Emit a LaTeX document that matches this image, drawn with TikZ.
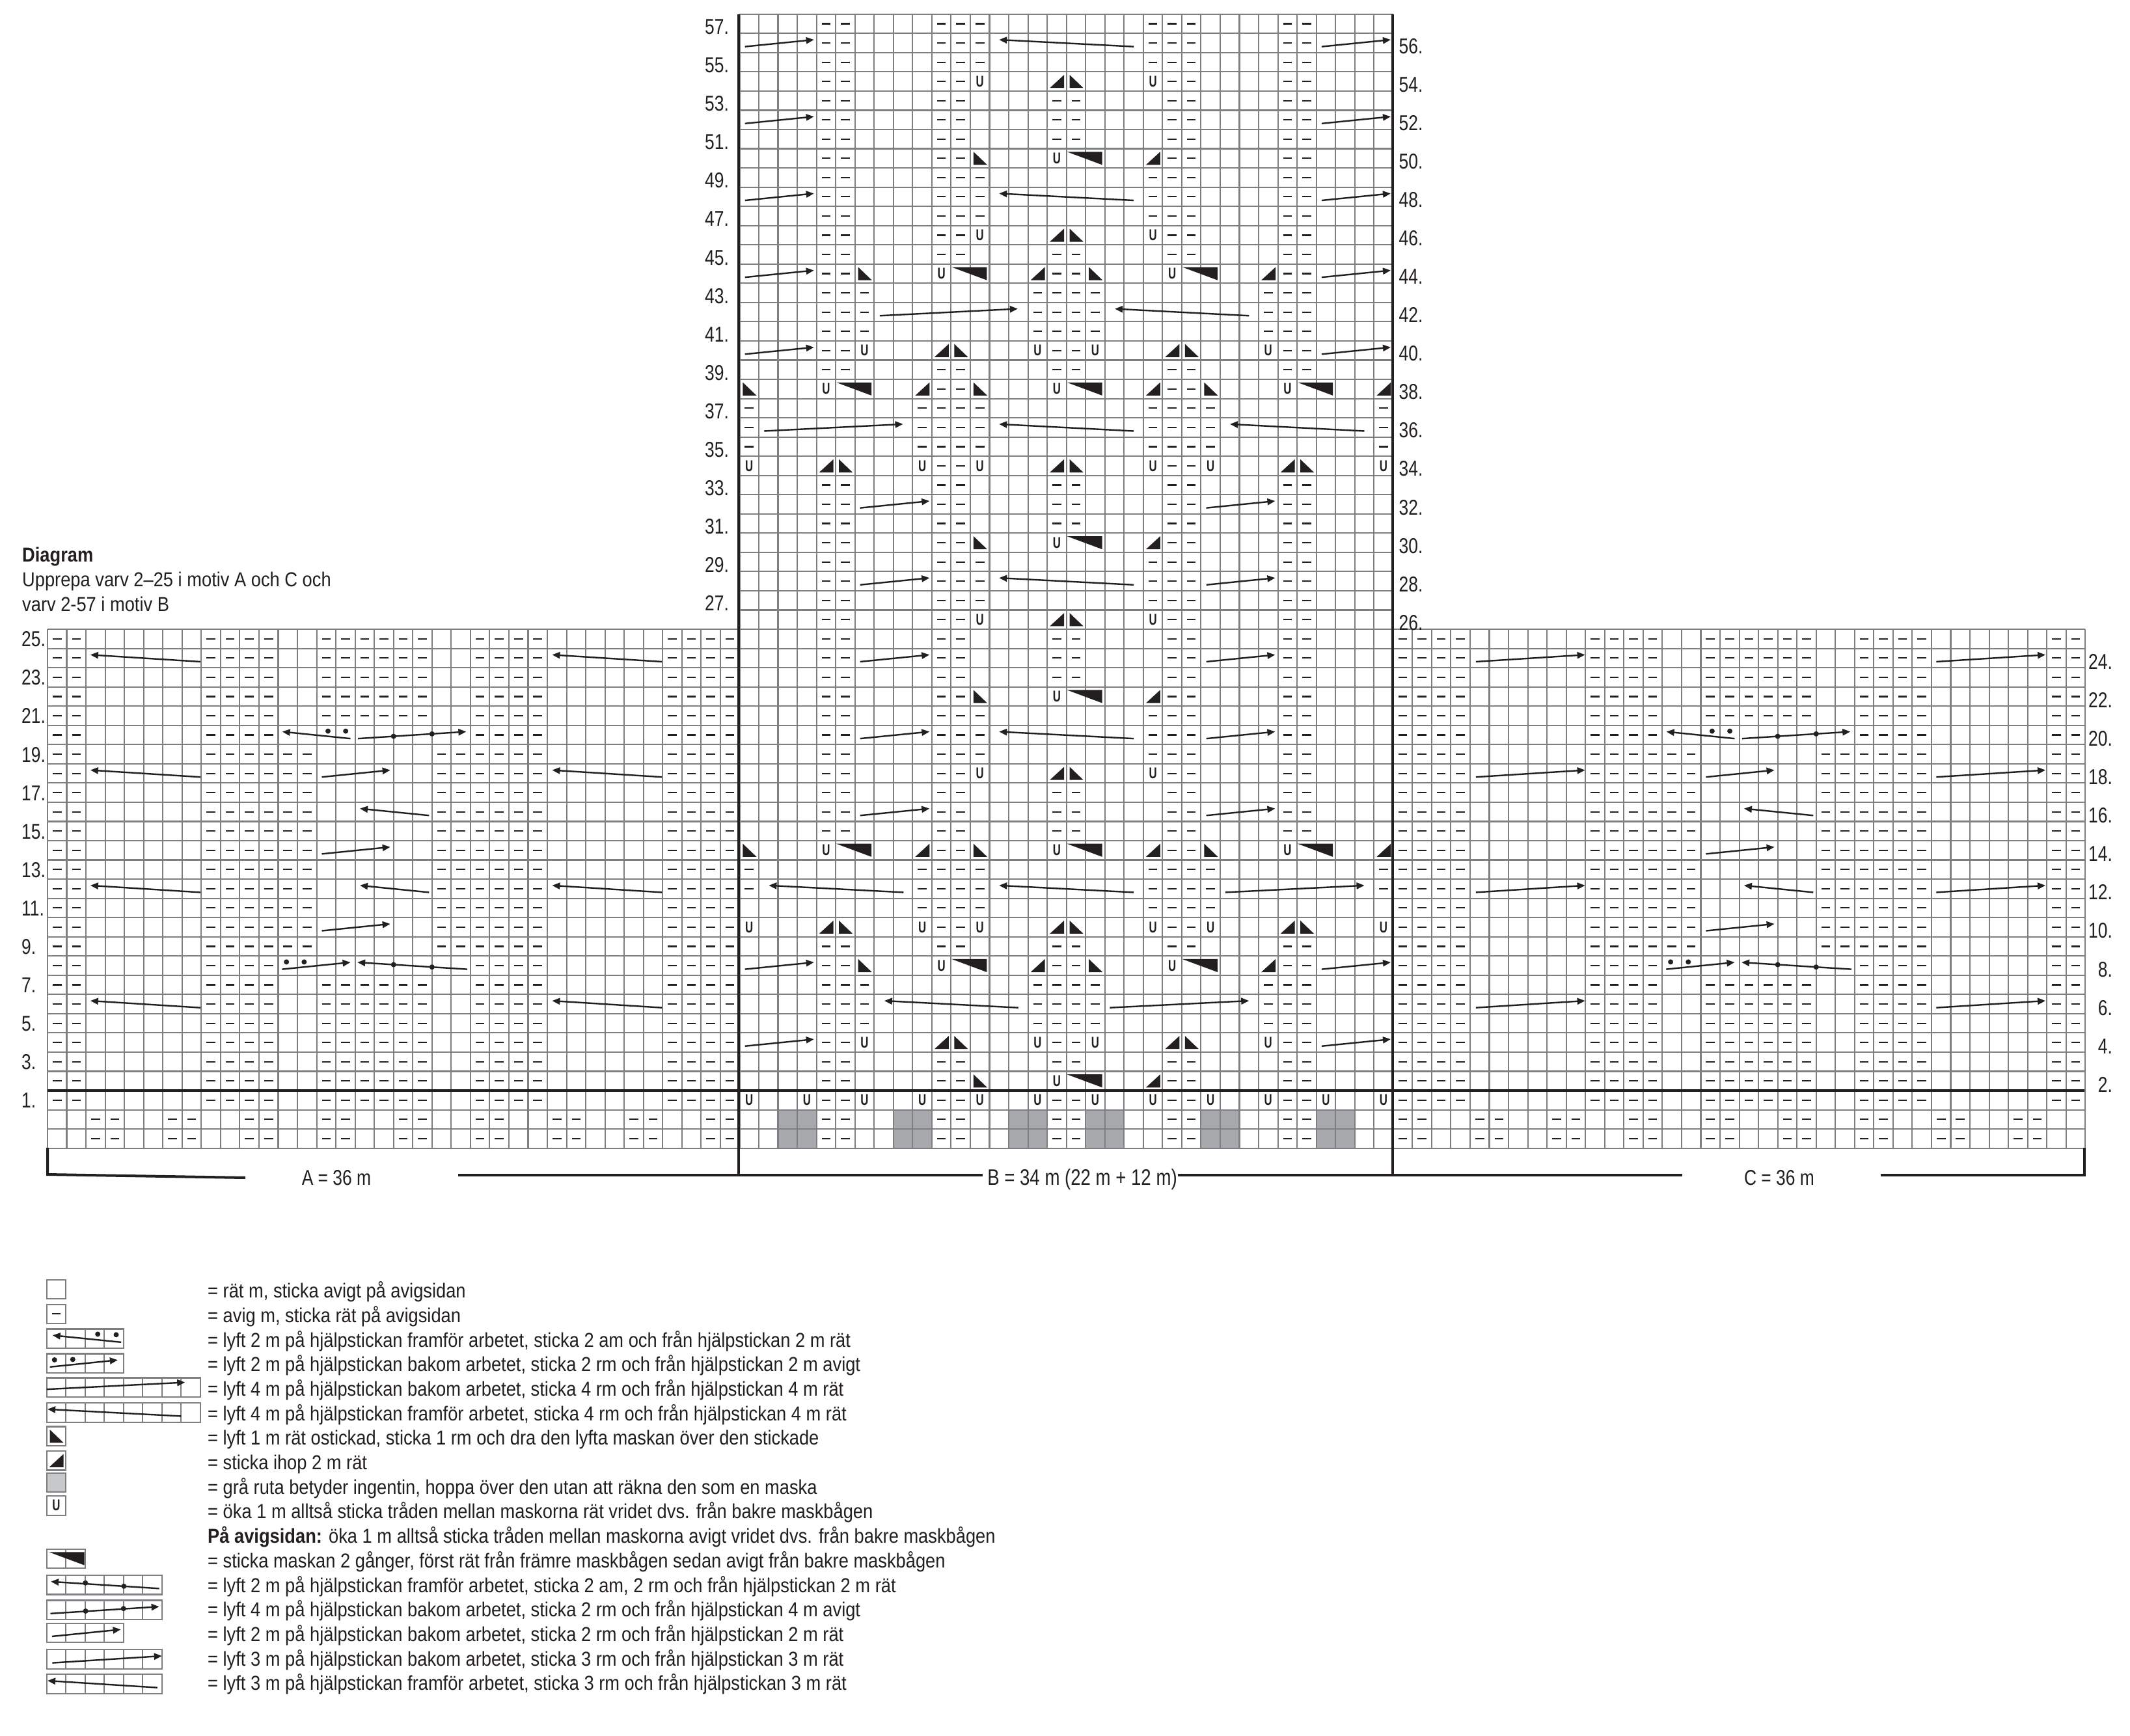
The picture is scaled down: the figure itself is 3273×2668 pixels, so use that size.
\documentclass[tikz,border=0pt]{standalone}
\usepackage{fontspec}
\setmainfont{Liberation Sans}[FakeStretch=0.8]
\newfontfamily\ufont{Liberation Sans}[FakeStretch=0.7]
\newfontfamily\legfont{Liberation Sans}[FakeStretch=0.88]
\usetikzlibrary{arrows.meta}
\definecolor{gridgray}{HTML}{7D7F82}
\definecolor{ink}{HTML}{231F20}
\definecolor{cellgray}{HTML}{A7A9AC}
\definecolor{legendgray}{HTML}{C7C8CA}
\tikzset{
  gridline/.style={draw=gridgray,line width=2.1pt},
  purl/.style={draw=ink,line width=2.2pt},
  cab/.style={draw=ink,line width=2.4pt,-{Stealth[length=12pt,width=10pt,inset=0pt]}},
  heavy/.style={draw=ink,line width=4pt},
  sym/.style={fill=ink,draw=none},
  ustitch/.style={inner sep=0pt,font=\ufont\bfseries\fontsize{24}{24}\selectfont,text=ink},
  rowlabel/.style={inner sep=0pt,font=\fontsize{33}{36}\selectfont,text=ink},
  legendtext/.style={inner sep=0pt,anchor=base west,font=\legfont\fontsize{31}{34}\selectfont,text=ink},
}
\newcommand\purlset[2]{\foreach \c in #2 {\draw[purl] (\c-.73,#1-1.5) -- (\c-.27,#1-1.5);}}
\newcommand\cable[3]{\draw[cab] (#1,#3-.19) -- (#2,#3+.17);}
\newcommand\kk[2]{\fill[sym] (#1-.86,#2-1.84) -- (#1-.12,#2-1.84) -- (#1-.12,#2-1.16) -- cycle;}
\newcommand\ssk[2]{\fill[sym] (#1-.83,#2-1.16) -- (#1-.83,#2-1.84) -- (#1-.12,#2-1.84) -- cycle;}
\newcommand\wdg[2]{\fill[sym] (#1-.97,#2-1.16) -- (#1+.86,#2-1.16) -- (#1+.86,#2-1.84) -- cycle;}
\newcommand\Uc[2]{\node[ustitch] (u#1r#2) at (#1-.5,#2-1.5) {U};}
\newcommand\dotc[2]{\fill[ink] (#1,#2) circle (4pt);}
\newcommand\legcell[3]{\begin{scope}[shift={(71.6,#1)},x=29.54pt,y=29.54pt]
  \draw[gridline] (0,-.5) rectangle (#2,.5);
  \foreach \q in {1,...,#2} {\draw[gridline] (\q,-.5) -- (\q,.5);}
  #3
\end{scope}}
\newcommand\legline[2]{\node[legendtext] (leg#1) at (319,{1994.6+37.7*(#1-1)}) {#2};}
% motif sets
\def\Aw{1,2,9,10,11,12,15,16,17,18,19,20,23,24,25,26,33,34,35,36}
\def\Ax{1,2,9,10,11,12,23,24,25,26,33,34,35,36}
\def\Ay{1,2,9,10,11,12,13,14,21,22,23,24,25,26,33,34,35,36}
\def\Az{3,4,7,8,11,12,15,16,19,20,23,24,27,28,31,32,35,36}
\def\Cw{1,2,3,4,11,12,13,14,17,18,19,20,21,22,25,26,27,28,35,36}
\def\Cx{1,2,3,4,11,12,13,14,25,26,27,28,35,36}
\def\Cy{1,2,3,4,11,12,13,14,15,16,23,24,25,26,27,28,35,36}
\def\Cz{1,2,5,6,9,10,13,14,17,18,21,22,25,26,29,30,33,34}
\def\Ba{5,6,11,12,13,22,23,24,29,30}
\def\Bb{5,6,11,12,17,18,23,24,29,30}
\def\Bc{5,6,11,12,23,24,29,30}
\def\Bd{5,6,17,18,29,30}
\def\Be{5,6,7,16,17,18,19,28,29,30}
\def\Bg{11,12,23,24}
\def\Bh{1,10,11,12,13,22,23,24,25,34}
\def\Bi{10,11,12,13,22,23,24,25}
% centre cables shared by motifs A and C
\newcommand\midcables{
  \cable{15.76}{12.21}{18.5}
  \dotc{14.59}{18.7}\dotc{15.51}{18.7}
  \cable{16.15}{21.78}{18.5}
  \dotc{18}{18.43}\dotc{20}{18.556}
  \foreach \r in {18,14,10} {\cable{14.27}{17.83}{\r-1.5}}
  \foreach \r in {16,12} {\cable{19.85}{16.25}{\r-1.5}}
  \cable{12.2}{15.76}{6.5}
  \dotc{12.43}{6.69}\dotc{13.35}{6.69}
  \cable{21.83}{16.12}{6.5}
  \dotc{18}{6.55}\dotc{20}{6.425}
}
\begin{document}
\begin{tikzpicture}[x=1pt,y=-1pt]
\useasboundingbox (0,0) rectangle (3273,2668);
\fill[white] (0,0) rectangle (3273,2668);

\begin{scope}[shift={(73,1676)},x=29.54pt,y=29.54pt]
  % grey cells of motif B
  \foreach \c in {2,8,14,18,24,30} {\fill[cellgray] (36+\c,-3) rectangle (36+\c+2,-1);}
  % grid
  \draw[gridline,step=1] (0,-3) grid (106,24);
  \draw[gridline,step=1] (36,24) grid (70,56);

  % motif A
  \foreach \r in {25,24,23,22,21,7,6,5,4,3,2,1} {\purlset{\r}{\Aw}}
  \foreach \r in {20,8} {\purlset{\r}{\Ax}}
  \foreach \r in {19,18,...,9} {\purlset{\r}{\Ay}}
  \foreach \r in {0,-1} {\purlset{\r}{\Az}}
  \foreach \r in {24,18,12,6} {\cable{7.95}{2.23}{\r-1.5}\cable{31.96}{26.25}{\r-1.5}}
  \midcables

  % motif C
  \begin{scope}[shift={(70,0)}]
    \foreach \r in {25,24,23,22,21,7,6,5,4,3,2,1} {\purlset{\r}{\Cw}}
    \foreach \r in {20,8} {\purlset{\r}{\Cx}}
    \foreach \r in {19,18,...,9} {\purlset{\r}{\Cy}}
    \foreach \r in {0,-1} {\purlset{\r}{\Cz}}
    \foreach \r in {24,18,12,6} {\cable{4.3}{9.98}{\r-1.5}\cable{28.25}{33.93}{\r-1.5}}
    \begin{scope}[shift={(2,0)}]\midcables\end{scope}
  \end{scope}

  % motif B
  \begin{scope}[shift={(36,0)}]
    \foreach \r in {57,56,55,49,48,47,29,28,27,21,20,19} {\purlset{\r}{\Ba}}
    \foreach \r in {53,52,51,45,39,33,32,31,25,24,23,17,16,15,9,3,1,0,-1} {\purlset{\r}{\Bb}}
    \foreach \r in {54,50,46,30,26,22,18,2} {\purlset{\r}{\Bc}}
    \foreach \r in {44,40,8,4} {\purlset{\r}{\Bd}}
    \foreach \r in {43,42,41,7,6,5} {\purlset{\r}{\Be}}
    \foreach \r in {38,34,14,10} {\purlset{\r}{\Bg}}
    \foreach \r in {37,36,35,13,12} {\purlset{\r}{\Bh}}
    \purlset{11}{\Bi}
    \foreach \r in {54,46,26,18} {\Uc{13}{\r}\Uc{22}{\r}\kk{17}{\r}\ssk{18}{\r}}
    \foreach \r in {50,30,22,2} {\ssk{13}{\r}\Uc{17}{\r}\wdg{18}{\r}\kk{22}{\r}}
    \foreach \r in {44,8} {\ssk{7}{\r}\Uc{11}{\r}\wdg{12}{\r}\kk{16}{\r}\ssk{19}{\r}\Uc{23}{\r}\wdg{24}{\r}\kk{28}{\r}}
    \foreach \r in {40,4} {\Uc{7}{\r}\kk{11}{\r}\ssk{12}{\r}\Uc{16}{\r}\Uc{19}{\r}\kk{23}{\r}\ssk{24}{\r}\Uc{28}{\r}}
    \foreach \r in {38,14} {\ssk{1}{\r}\Uc{5}{\r}\wdg{6}{\r}\kk{10}{\r}\ssk{13}{\r}\Uc{17}{\r}\wdg{18}{\r}\kk{22}{\r}\ssk{25}{\r}\Uc{29}{\r}\wdg{30}{\r}\kk{34}{\r}}
    \foreach \r in {34,10} {\Uc{1}{\r}\kk{5}{\r}\ssk{6}{\r}\Uc{10}{\r}\Uc{13}{\r}\kk{17}{\r}\ssk{18}{\r}\Uc{22}{\r}\Uc{25}{\r}\kk{29}{\r}\ssk{30}{\r}\Uc{34}{\r}}
    \foreach \c in {1,4,7,10,13,16,19,22,25,28,31,34} {\Uc{\c}{1}}
    \foreach \r in {56,52,48,44,40,8,4} {\cable{.28}{3.87}{\r-1.5}\cable{30.28}{33.87}{\r-1.5}}
    \foreach \r in {56,48,36,28,20,12} {\cable{20.5}{13.5}{\r-1.5}}
    \cable{7.29}{14.47}{40.5}\cable{26.5}{19.52}{40.5}
    \cable{1.28}{8.5}{34.5}\cable{32.5}{25.51}{34.5}
    \foreach \r in {32,28,24,20,16} {\cable{6.27}{9.88}{\r-1.5}\cable{24.28}{27.86}{\r-1.5}}
    \cable{8.53}{1.52}{10.5}\cable{25.27}{32.5}{10.5}
    \cable{14.5}{7.53}{4.5}\cable{19.26}{26.5}{4.5}
  \end{scope}
\end{scope}

% heavy frame lines
\draw[heavy] (73,1676) -- (3203,1676);
\draw[heavy] (1135.4,22) -- (1135.4,1808);
\draw[heavy] (2139.8,22) -- (2139.8,1808);
\draw[heavy] (73,1764) -- (73,1805) -- (377,1810);
\draw[heavy] (704,1806) -- (1510,1806);
\draw[heavy] (1810,1806) -- (2585,1806);
\draw[heavy] (2890,1806) -- (3203,1806) -- (3203,1764);

% measure labels
\node[rowlabel] (labA) at (517,1810) {A = 36 m};
\node[rowlabel,font=\fontsize{34.5}{37}\selectfont] (labB) at (1663,1813) {B = 34 m (22 m + 12 m)};
\node[rowlabel] (labC) at (2734,1810) {C = 36 m};

% row numbers
\foreach \n in {25,23,...,1} {\node[rowlabel,anchor=base west] (na\n) at (33,{1676-(\n-1.5)*29.54+12}) {\n.};}
\foreach \n in {57,55,...,27} {\node[rowlabel,anchor=base west] (nb\n) at (1083,{1676-(\n-1.5)*29.54+16}) {\n.};}
\foreach \n in {56,54,...,26} {\node[rowlabel,anchor=base west] (nr\n) at (2149.5,{1676-(\n-1.5)*29.54+16}) {\n.};}
\foreach \n in {24,22,...,2} {\node[rowlabel,anchor=base east] (nc\n) at (3246,{1676-(\n-1.5)*29.54+17}) {\n.};}

% heading
\node[legendtext,font=\legfont\bfseries\fontsize{31}{34}\selectfont] (head1) at (34,863) {Diagram};
\node[legendtext] (head2) at (34,901) {Upprepa varv 2–25 i motiv A och C och};
\node[legendtext] (head3) at (34,939) {varv 2-57 i motiv B};

% legend boxes
\legcell{1981.3}{1}{}
\legcell{2019.3}{1}{\draw[purl] (.27,0) -- (.73,0);}
\legcell{2057.2}{4}{\cable{3.88}{.31}{0}\dotc{2.66}{.23}\dotc{3.62}{.2}}
\legcell{2095.2}{4}{\cable{.17}{3.7}{0}\dotc{.41}{.18}\dotc{1.36}{.2}}
\legcell{2132.2}{8}{\cable{0}{7.2}{.09}}
\legcell{2170.8}{8}{\cable{7}{.05}{0}}
\legcell{2207.2}{1}{\ssk{1}{1.5}}
\legcell{2244.7}{1}{\kk{1}{1.5}}
\legcell{2278.4}{1}{\fill[legendgray] (0,-.5) rectangle (1,.5);\draw[gridline] (0,-.5) rectangle (1,.5);}
\legcell{2313.8}{1}{\node[ustitch] (legU) at (.5,0) {U};}
\legcell{2395.4}{2}{\wdg{1.1}{1.5}}
\legcell{2435.7}{6}{\cable{5.86}{.22}{0}\dotc{2.02}{.1}\dotc{4.02}{-.07}}
\legcell{2474.2}{6}{\cable{.2}{5.86}{0}\dotc{2.03}{-.06}\dotc{4}{.07}}
\legcell{2509.3}{4}{\cable{.28}{3.86}{0}}
\legcell{2550}{6}{\cable{.3}{6}{0}}
\legcell{2588}{6}{\cable{5.76}{.05}{0}}

% legend texts
\legline{1}{= rät m, sticka avigt på avigsidan}
\legline{2}{= avig m, sticka rät på avigsidan}
\legline{3}{= lyft 2 m på hjälpstickan framför arbetet, sticka 2 am och från hjälpstickan 2 m rät}
\legline{4}{= lyft 2 m på hjälpstickan bakom arbetet, sticka 2 rm och från hjälpstickan 2 m avigt}
\legline{5}{= lyft 4 m på hjälpstickan bakom arbetet, sticka 4 rm och från hjälpstickan 4 m rät}
\legline{6}{= lyft 4 m på hjälpstickan framför arbetet, sticka 4 rm och från hjälpstickan 4 m rät}
\legline{7}{= lyft 1 m rät ostickad, sticka 1 rm och dra den lyfta maskan över den stickade}
\legline{8}{= sticka ihop 2 m rät}
\legline{9}{= grå ruta betyder ingentin, hoppa över den utan att räkna den som en maska}
\legline{10}{= öka 1 m alltså sticka tråden mellan maskorna rät vridet dvs. från bakre maskbågen}
\legline{11}{\textbf{På avigsidan:} öka 1 m alltså sticka tråden mellan maskorna avigt vridet dvs. från bakre maskbågen}
\legline{12}{= sticka maskan 2 gånger, först rät från främre maskbågen sedan avigt från bakre maskbågen}
\legline{13}{= lyft 2 m på hjälpstickan framför arbetet, sticka 2 am, 2 rm och från hjälpstickan 2 m rät}
\legline{14}{= lyft 4 m på hjälpstickan bakom arbetet, sticka 2 rm och från hjälpstickan 4 m avigt}
\legline{15}{= lyft 2 m på hjälpstickan bakom arbetet, sticka 2 rm och från hjälpstickan 2 m rät}
\legline{16}{= lyft 3 m på hjälpstickan bakom arbetet, sticka 3 rm och från hjälpstickan 3 m rät}
\legline{17}{= lyft 3 m på hjälpstickan framför arbetet, sticka 3 rm och från hjälpstickan 3 m rät}
\end{tikzpicture}
\end{document}
